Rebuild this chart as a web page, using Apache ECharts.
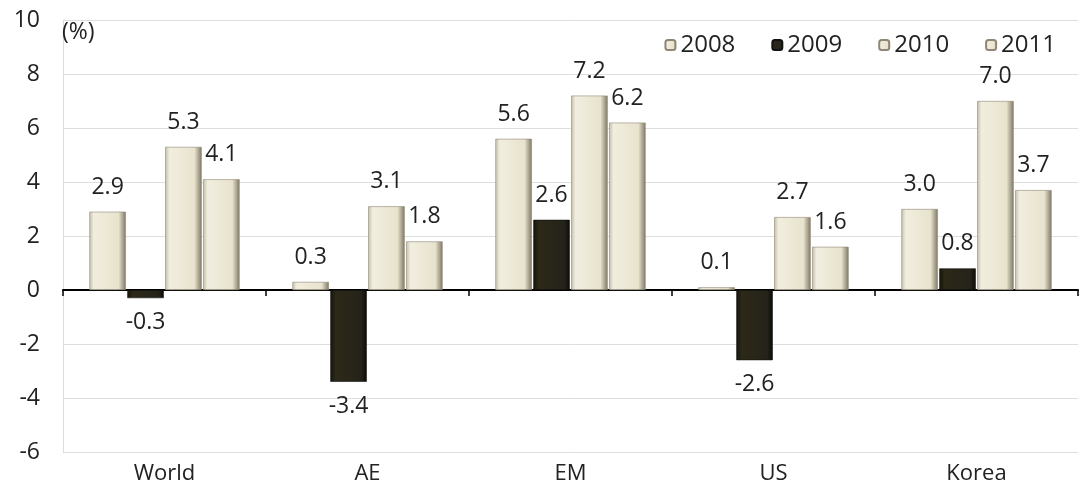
<!DOCTYPE html>
<html>
<head>
<meta charset="utf-8">
<script src="https://cdn.jsdelivr.net/npm/echarts@6/dist/echarts.min.js"></script>
<style>
  html, body { margin: 0; padding: 0; background: #fff; }
  #chart { width: 1085px; height: 488px; }
</style>
</head>
<body>
<div id="chart"></div>
<script>
// Regions and yearly growth rates (%)
const categories = ['World', 'AE', 'EM', 'US', 'Korea'];
const years = ['2008', '2009', '2010', '2011'];
const values2008 = [2.9, 0.3, 5.6, 0.1, 3.0];
const values2009 = [-0.3, -3.4, 2.6, -2.6, 0.8];
const values2010 = [5.3, 3.1, 7.2, 2.7, 7.0];
const values2011 = [4.1, 1.8, 6.2, 1.6, 3.7];
const yTicks = [-6, -4, -2, 0, 2, 4, 6, 8, 10];

const FONT = 'Open Sans, Noto Sans, sans-serif';

// Bevelled fills: light cream and near-black
const lightFill = new echarts.graphic.LinearGradient(0, 0, 1, 0, [
  { offset: 0, color: '#c4bfa8' },
  { offset: 0.12, color: '#f2eedf' },
  { offset: 0.8, color: '#e8e3cd' },
  { offset: 1, color: '#7d7764' }
]);
const darkFill = new echarts.graphic.LinearGradient(0, 0, 1, 0, [
  { offset: 0, color: '#161409' },
  { offset: 0.15, color: '#2c2919' },
  { offset: 0.85, color: '#25221a' },
  { offset: 1, color: '#0c0b06' }
]);

function toItems(arr) {
  return arr.map(v => ({
    value: v,
    label: { position: v < 0 ? 'bottom' : 'top' }
  }));
}

function makeSeries(name, arr, fill) {
  return {
    name: name,
    type: 'bar',
    data: toItems(arr),
    barGap: '4%',
    barCategoryGap: '26%',
    itemStyle: { color: fill, borderColor: fill === darkFill ? '#111' : '#8d8773', borderWidth: 0.6 },
    label: {
      show: true,
      distance: 13,
      fontFamily: FONT,
      fontSize: 23,
      color: '#222',
      formatter: p => p.value.toFixed(1)
    }
  };
}

const chart = echarts.init(document.getElementById('chart'));
chart.setOption({
  animation: false,
  backgroundColor: '#fff',
  title: {
    text: '(%)',
    left: 62,
    top: 21,
    padding: 0,
    textStyle: { fontFamily: FONT, fontSize: 23, fontWeight: 'normal', color: '#222' }
  },
  grid: { left: 63, right: 7, top: 20, bottom: 36 },
  legend: {
    data: years,
    top: 28,
    right: 24,
    itemWidth: 10,
    itemHeight: 10,
    itemGap: 36,
    textStyle: { fontFamily: FONT, fontSize: 24, color: '#222' }
  },
  xAxis: [
    {
      type: 'category',
      data: categories,
      axisLine: { onZero: false, show: false },
      axisTick: { show: false },
      axisLabel: { fontFamily: FONT, fontSize: 22, color: '#222', margin: 11 }
    },
    {
      type: 'category',
      data: categories,
      position: 'bottom',
      axisLine: { onZero: true, lineStyle: { color: '#000', width: 2 } },
      axisTick: { show: true, length: 6, lineStyle: { color: '#000', width: 1.5 } },
      axisLabel: { show: false }
    }
  ],
  yAxis: {
    type: 'value',
    min: yTicks[0],
    max: yTicks[yTicks.length - 1],
    interval: 2,
    axisLine: { show: true, lineStyle: { color: '#dcdcdc' } },
    axisTick: { show: false },
    splitLine: { lineStyle: { color: '#dedede' } },
    axisLabel: { fontFamily: FONT, fontSize: 23, color: '#222', margin: 23 }
  },
  series: [
    makeSeries('2008', values2008, lightFill),
    makeSeries('2009', values2009, darkFill),
    makeSeries('2010', values2010, lightFill),
    makeSeries('2011', values2011, lightFill)
  ]
});
</script>
</body>
</html>
